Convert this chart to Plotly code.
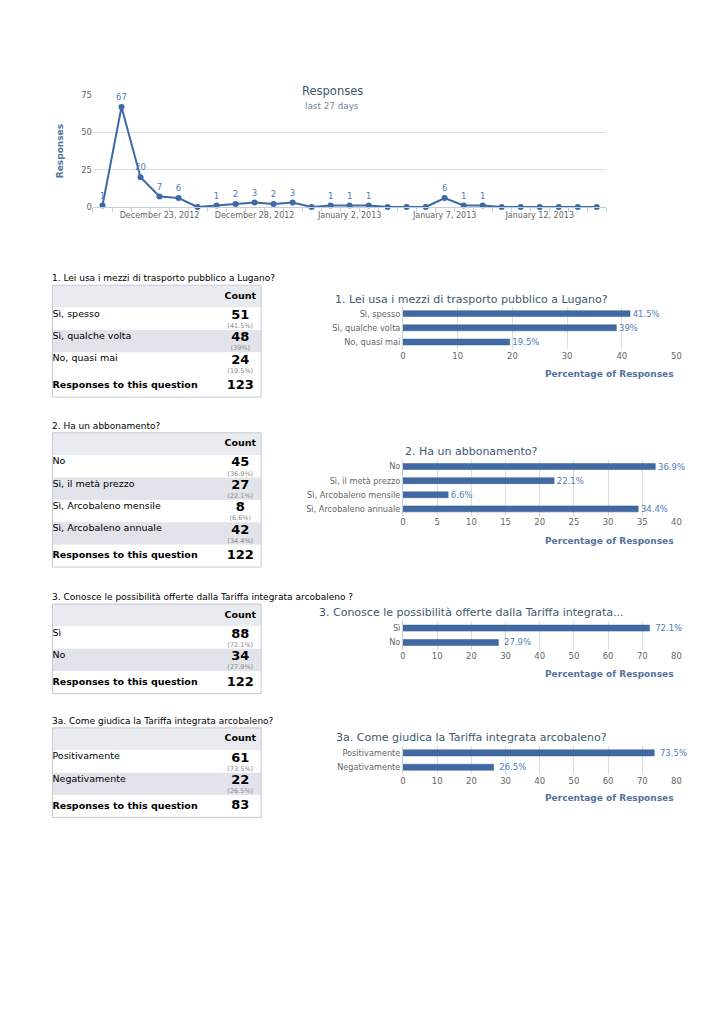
import plotly.graph_objects as go

W, H = 724, 1024
FONT = "DejaVu Sans"


def px(x):
    return x / W


def py(y):
    return 1 - y / H


# ---------------- data ----------------
dates = ["2012-12-20", "2012-12-21", "2012-12-22", "2012-12-23", "2012-12-24",
         "2012-12-25", "2012-12-26", "2012-12-27", "2012-12-28", "2012-12-29",
         "2012-12-30", "2012-12-31", "2013-01-01", "2013-01-02", "2013-01-03",
         "2013-01-04", "2013-01-05", "2013-01-06", "2013-01-07", "2013-01-08",
         "2013-01-09", "2013-01-10", "2013-01-11", "2013-01-12", "2013-01-13",
         "2013-01-14", "2013-01-15"]
responses = [1, 67, 20, 7, 6, 0, 1, 2, 3, 2, 3, 0, 1, 1, 1, 0, 0, 0, 6, 1, 1,
             0, 0, 0, 0, 0, 0]
date_tickvals = ["2012-12-23", "2012-12-28", "2013-01-02", "2013-01-07", "2013-01-12"]
date_ticktext = ["December 23, 2012", "December 28, 2012", "January 2, 2013",
                 "January 7, 2013", "January 12, 2013"]

q1_title = "1. Lei usa i mezzi di trasporto pubblico a Lugano?"
q1_labels = ["Sì, spesso", "Sì, qualche volta", "No, quasi mai"]
q1_counts = [51, 48, 24]
q1_pcts = [41.5, 39, 19.5]
q1_total = 123

q2_title = "2. Ha un abbonamento?"
q2_labels = ["No", "Sì, il metà prezzo", "Sì, Arcobaleno mensile", "Sì, Arcobaleno annuale"]
q2_counts = [45, 27, 8, 42]
q2_pcts = [36.9, 22.1, 6.6, 34.4]
q2_total = 122

q3_title = "3. Conosce le possibilità offerte dalla Tariffa integrata arcobaleno ?"
q3_chart_title = "3. Conosce le possibilità offerte dalla Tariffa integrata..."
q3_labels = ["Sì", "No"]
q3_counts = [88, 34]
q3_pcts = [72.1, 27.9]
q3_total = 122

q4_title = "3a. Come giudica la Tariffa integrata arcobaleno?"
q4_labels = ["Positivamente", "Negativamente"]
q4_counts = [61, 22]
q4_pcts = [73.5, 26.5]
q4_total = 83

# ---------------- styles ----------------
BLUE = "#3d6aa6"
LABEL_BLUE = "#4f7dbb"
TITLE_COL = "#3E576F"
AXIS_TITLE_COL = "#53739c"
GRID = "#dcdcdc"
TICK_COL = "#666666"
HEADER_FILL = "#e9ebf1"
ALT_FILL = "#e2e3eb"

fig = go.Figure()
layout = dict(
    width=W, height=H, margin=dict(l=0, r=0, t=0, b=0, pad=0), autosize=False,
    paper_bgcolor="white", plot_bgcolor="white", showlegend=False,
    font=dict(family=FONT, color="#333"),
)
annotations = []
shapes = []


def note(text, x, y, size, color, xanchor="center", xref="paper"):
    annotations.append(dict(text=text, x=x, y=y, xref=xref, yref="paper",
                            xanchor=xanchor, yanchor="middle", showarrow=False,
                            font=dict(size=size, color=color, family=FONT)))


# ---------------- line chart ----------------
fig.add_trace(go.Scatter(
    x=dates, y=responses, mode="lines+markers+text",
    text=[str(v) if v else "" for v in responses],
    textposition="top center",
    textfont=dict(size=8.5, color=LABEL_BLUE, family=FONT),
    line=dict(color=BLUE, width=2), marker=dict(size=6, color=BLUE),
    cliponaxis=False, hoverinfo="x+y", xaxis="x", yaxis="y",
))
layout["xaxis"] = dict(
    domain=[px(91), px(610)], anchor="y", type="date",
    range=["2012-12-19 12:00", "2013-01-15 12:00"],
    tickmode="array", tickvals=date_tickvals, ticktext=date_ticktext,
    ticks="", tickfont=dict(size=8, color=TICK_COL),
    showline=True, linecolor="#c0d0e0", linewidth=1, showgrid=False, zeroline=False,
    minor=dict(tickmode="linear", tick0="2012-12-19 12:00", dtick=86400000,
               ticks="outside", ticklen=4, tickcolor="#c0d0e0", showgrid=False),
)
layout["yaxis"] = dict(
    domain=[py(204), py(91)], anchor="x", range=[0, 75],
    tickvals=[0, 25, 50, 75], tickfont=dict(size=8.5, color=TICK_COL),
    gridcolor=GRID, zeroline=False, showline=False, ticks="",
    title=dict(text="<b>Responses</b>", font=dict(size=9, color=AXIS_TITLE_COL), standoff=16),
)
note("Responses", px(333), py(87), 11.5, TITLE_COL)
note("last 27 days", px(333), py(102), 8.8, "#6d87a8")

# ---------------- bar charts ----------------
bar_specs = [
    (2, q1_title, q1_labels, q1_pcts, 50, 10, (304.5, 347.5), 297, 373),
    (3, q2_title, q2_labels, q2_pcts, 40, 5, (459, 516), 451, 541),
    (4, q3_chart_title, q3_labels, q3_pcts, 80, 10, (622, 651), 613, 676),
    (5, q4_title, q4_labels, q4_pcts, 80, 10, (748, 777), 740, 801),
]
for n, title, cats, vals, xmax, dt, (ytop, ybot), title_y, ptitle_y in bar_specs:
    fig.add_trace(go.Bar(
        y=cats, x=vals, orientation="h", width=0.42,
        marker=dict(color="#4169a3", line=dict(color="#345a8c", width=0.5)),
        texttemplate=" %{x}%", textposition="outside", constraintext="none",
        textfont=dict(size=8.5, color=LABEL_BLUE, family=FONT),
        cliponaxis=False, xaxis=f"x{n}", yaxis=f"y{n}",
    ))
    layout[f"xaxis{n}"] = dict(
        domain=[px(404.5), px(681)], anchor=f"y{n}", range=[0, xmax], dtick=dt,
        tickfont=dict(size=8.5, color=TICK_COL), gridcolor=GRID, showline=False,
        zeroline=False, ticks="",
    )
    layout[f"yaxis{n}"] = dict(
        domain=[py(ybot), py(ytop)], anchor=f"x{n}", autorange="reversed",
        type="category", tickfont=dict(size=8.2, color=TICK_COL), showline=True,
        linecolor="#c0d0e0", ticks="", showgrid=False,
    )
    note(title, px(474), py(title_y), 11, TITLE_COL)
    note("<b>Percentage of Responses</b>", 1, py(ptitle_y), 9, AXIS_TITLE_COL,
         xanchor="right", xref=f"x{n} domain")

# ---------------- tables ----------------
ROW = 22.6
table_specs = [
    (6, q1_title, q1_labels, q1_counts, q1_pcts, q1_total, 283, 276),
    (7, q2_title, q2_labels, q2_counts, q2_pcts, q2_total, 432, 425),
    (8, q3_title, q3_labels, q3_counts, q3_pcts, q3_total, 605, 598),
    (9, q4_title, q4_labels, q4_counts, q4_pcts, q4_total, 730, 723),
]
for n, title, labels, counts, pcts, total, top, qy in table_specs:
    k = len(labels)
    units = k + 2
    rows = list(range(units))
    fills = [HEADER_FILL] + [("white" if i % 2 == 0 else ALT_FILL) for i in range(k)] + ["white"]
    xa, ya = f"x{n}", f"y{n}"
    fig.add_trace(go.Bar(y=rows, x=[1] * units, base=0, orientation="h", width=1,
                         marker=dict(color=fills, line=dict(width=0)),
                         hoverinfo="skip", xaxis=xa, yaxis=ya))
    data_rows = [i + 1 for i in range(k)]
    # row labels
    fig.add_trace(go.Scatter(x=[0.0] * k, y=[r - 0.2 for r in data_rows], text=labels,
                             mode="text", textposition="middle right",
                             textfont=dict(size=9.5, color="#000", family=FONT),
                             hoverinfo="skip", xaxis=xa, yaxis=ya, cliponaxis=False))
    # counts
    fig.add_trace(go.Scatter(x=[0.9] * k, y=[r - 0.14 for r in data_rows],
                             text=[str(c) for c in counts], mode="text",
                             textposition="middle center",
                             textfont=dict(size=13, color="#000", family=FONT, weight="bold"),
                             hoverinfo="skip", xaxis=xa, yaxis=ya, cliponaxis=False))
    # percentages
    fig.add_trace(go.Scatter(x=[0.9] * k, y=[r + 0.34 for r in data_rows],
                             text=[f"({p:g}%)" for p in pcts], mode="text",
                             textposition="middle center",
                             textfont=dict(size=6.5, color="#888", family=FONT),
                             hoverinfo="skip", xaxis=xa, yaxis=ya, cliponaxis=False))
    # header + total row
    fig.add_trace(go.Scatter(x=[0.9, 0.0, 0.9], y=[0, units - 1, units - 1],
                             text=["Count", "Responses to this question", str(total)],
                             mode="text",
                             textposition=["middle center", "middle right", "middle center"],
                             textfont=dict(size=[9.5, 9.5, 13], color="#000", family=FONT,
                                           weight="bold"),
                             hoverinfo="skip", xaxis=xa, yaxis=ya, cliponaxis=False))
    bottom = top + units * ROW
    layout[f"xaxis{n}"] = dict(domain=[px(50), px(261)], anchor=ya, range=[0, 1], visible=False,
                               fixedrange=True)
    layout[f"yaxis{n}"] = dict(domain=[py(bottom), py(top)], anchor=xa,
                               range=[units - 0.5, -0.5], visible=False, fixedrange=True)
    shapes.append(dict(type="rect", xref=f"{xa} domain", yref=f"{ya} domain", x0=0, x1=1,
                       y0=0, y1=1, line=dict(color="#c5c9d3", width=1)))
    note(title, px(48), py(qy), 9, "#000", xanchor="left")

layout["annotations"] = annotations
layout["shapes"] = shapes
fig.update_layout(**layout)

fig.write_html(
    "out.html", config={"displayModeBar": False},
    post_script="document.documentElement.style.margin='0';document.body.style.margin='0';"
                "document.body.style.padding='0';document.body.style.overflow='hidden';"
                "document.documentElement.style.overflow='hidden';",
)
